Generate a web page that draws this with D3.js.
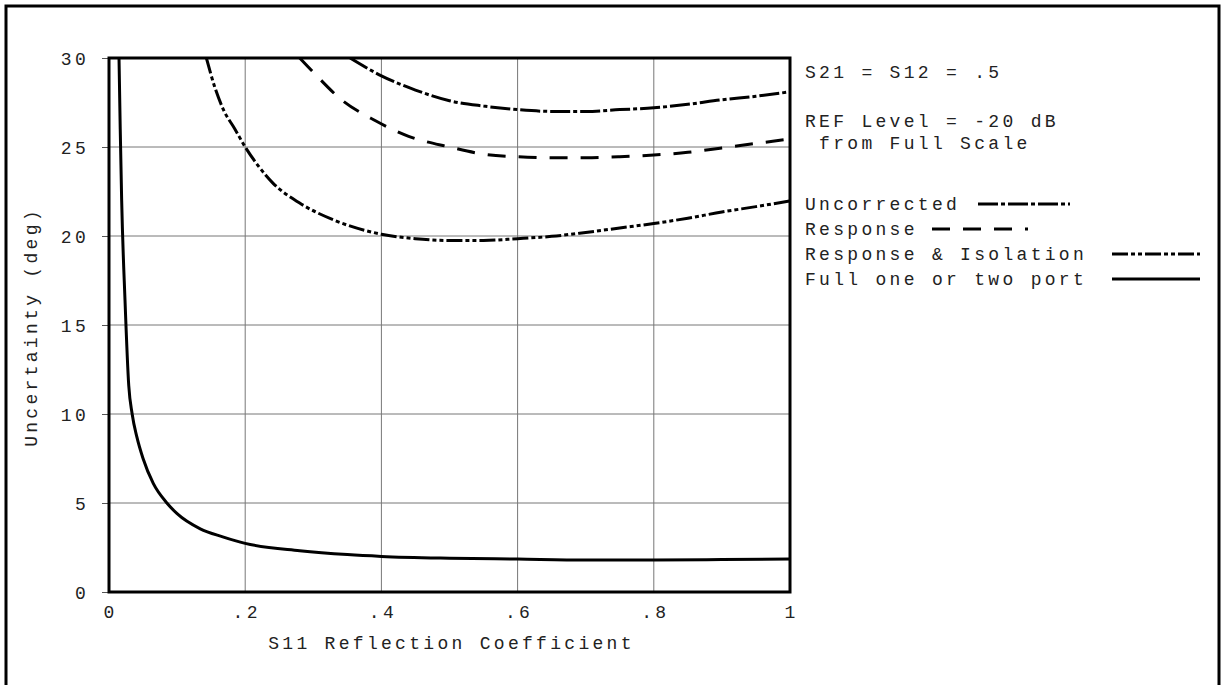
<!DOCTYPE html>
<html>
<head>
<meta charset="utf-8">
<script src="https://cdn.jsdelivr.net/npm/d3@7"></script>
<style>
  html, body { margin: 0; padding: 0; background: #fff; }
  svg text { font-family: "Liberation Mono", "DejaVu Sans Mono", monospace; font-size: 18px; fill: #222; letter-spacing: 3.3px; }
</style>
</head>
<body>
<svg id="chart" width="1224" height="685"></svg>
<script>
// ---- data ----
const xTicks = [0, 0.2, 0.4, 0.6, 0.8, 1];
const xTickLabels = ["0", ".2", ".4", ".6", ".8", "1"];
const yTicks = [0, 5, 10, 15, 20, 25, 30];
const yTickLabels = ["0", "5", "10", "15", "20", "25", "30"];
const xTitle = "S11 Reflection Coefficient";
const yTitle = "Uncertainty (deg)";
const noteLines = ["S21 = S12 = .5", "REF Level = -20 dB", " from Full Scale"];
const seriesNames = ["Uncorrected", "Response", "Response & Isolation", "Full one or two port"];

const uncorrected = [[0.354,30],[0.4,29.0],[0.45,28.2],[0.5,27.6],[0.55,27.3],[0.6,27.1],[0.65,27.0],[0.7,27.0],[0.75,27.1],[0.8,27.2],[0.85,27.4],[0.9,27.65],[0.95,27.85],[1.0,28.1]];
const response = [[0.28,30],[0.3,29.2],[0.34,27.7],[0.39,26.5],[0.44,25.6],[0.5,25.0],[0.55,24.6],[0.6,24.45],[0.65,24.4],[0.7,24.4],[0.75,24.45],[0.8,24.55],[0.85,24.7],[0.9,24.95],[0.95,25.2],[1.0,25.45]];
const respIso = [[0.143,30],[0.155,28.4],[0.168,27.1],[0.185,26],[0.2,25.0],[0.22,23.9],[0.24,23.0],[0.28,21.85],[0.33,20.9],[0.4,20.1],[0.45,19.85],[0.5,19.75],[0.55,19.75],[0.6,19.85],[0.65,19.98],[0.7,20.2],[0.75,20.45],[0.8,20.7],[0.85,21.0],[0.9,21.35],[0.95,21.65],[1.0,21.97]];
const fullPort = [[0.0147,30],[0.0165,26],[0.0186,22],[0.0235,16.4],[0.029,11.6],[0.034,10.0],[0.041,8.7],[0.05,7.5],[0.065,6.1],[0.085,5.0],[0.1,4.4],[0.134,3.55],[0.167,3.1],[0.2,2.73],[0.28,2.32],[0.35,2.1],[0.4,2.0],[0.5,1.9],[0.6,1.85],[0.7,1.8],[0.8,1.8],[0.9,1.82],[1.0,1.85]];

const seriesData = [uncorrected, response, respIso, fullPort];
const seriesDash = ["20,3,4,3", "18,13", "16,3,4,3,4,3", null];

// ---- layout ----
const svg = d3.select("#chart");
const L = 109, R = 790, T = 58, B = 592;
const x = d3.scaleLinear().domain([0, 1]).range([L, R]);
const y = d3.scaleLinear().domain([0, 30]).range([B, T]);

// outer border
svg.append("path")
  .attr("d", `M6,690 L6,6 L1219,6 L1219,690`)
  .attr("fill", "none").attr("stroke", "#000").attr("stroke-width", 3);

// gridlines
svg.append("g").selectAll("line").data(yTicks.filter(v => v > 0 && v < 30)).join("line")
  .attr("x1", L).attr("x2", R).attr("y1", d => y(d)).attr("y2", d => y(d))
  .attr("stroke", "#777").attr("stroke-width", 1);
svg.append("g").selectAll("line").data(xTicks.filter(v => v > 0 && v < 1)).join("line")
  .attr("y1", T).attr("y2", B).attr("x1", d => x(d)).attr("x2", d => x(d))
  .attr("stroke", "#777").attr("stroke-width", 1);

// y axis ticks + labels
const yAxis = d3.axisLeft(y).tickValues(yTicks).tickSize(7).tickPadding(16)
  .tickFormat((d, i) => yTickLabels[i]);
const gy = svg.append("g").attr("transform", `translate(${L},0)`).call(yAxis);
gy.select(".domain").remove();
gy.selectAll(".tick line").attr("stroke", "#555").attr("stroke-width", 1);
gy.selectAll(".tick text").attr("font-family", null).attr("font-size", null)
  .attr("dy", "0.36em").attr("x", -20);

// x axis labels
const xAxis = d3.axisBottom(x).tickValues(xTicks).tickSize(0).tickPadding(13)
  .tickFormat((d, i) => xTickLabels[i]);
const gx = svg.append("g").attr("transform", `translate(0,${B})`).call(xAxis);
gx.select(".domain").remove();
gx.selectAll(".tick text").attr("font-family", null).attr("font-size", null)
  .attr("dx", "1px");

// series
svg.append("defs").append("clipPath").attr("id", "plotclip")
  .append("rect").attr("x", L).attr("y", T).attr("width", R - L).attr("height", B - T);
const line = d3.line().x(d => x(d[0])).y(d => y(d[1])).curve(d3.curveMonotoneX);
const gs = svg.append("g").attr("clip-path", "url(#plotclip)");
seriesData.forEach((data, i) => {
  gs.append("path").datum(data)
    .attr("d", line)
    .attr("fill", "none").attr("stroke", "#000").attr("stroke-width", 3)
    .attr("stroke-dasharray", seriesDash[i]);
});

// frame
svg.append("rect").attr("x", L).attr("y", T).attr("width", R - L).attr("height", B - T)
  .attr("fill", "none").attr("stroke", "#000").attr("stroke-width", 3);

// axis titles
svg.append("text").attr("x", x(0.5) + 2).attr("y", 649).attr("text-anchor", "middle").text(xTitle);
svg.append("text").attr("transform", `translate(37,${(T + B) / 2 + 2}) rotate(-90)`)
  .attr("text-anchor", "middle").text(yTitle);

// notes
const noteY = [78, 127, 149];
noteLines.forEach((t, i) => {
  svg.append("text").attr("x", 805).attr("y", noteY[i]).attr("xml:space", "preserve")
    .style("white-space", "pre").text(t);
});

// legend
const legY = [210, 235, 260, 285];
const legX1 = [978, 932, 1112, 1112];
const legX2 = [1070, 1028, 1200, 1200];
seriesNames.forEach((name, i) => {
  svg.append("text").attr("x", 805).attr("y", legY[i]).text(name);
  svg.append("line").attr("x1", legX1[i]).attr("x2", legX2[i])
    .attr("y1", legY[i] - 6).attr("y2", legY[i] - 6)
    .attr("stroke", "#000").attr("stroke-width", 3)
    .attr("stroke-dasharray", seriesDash[i]);
});
</script>
</body>
</html>
